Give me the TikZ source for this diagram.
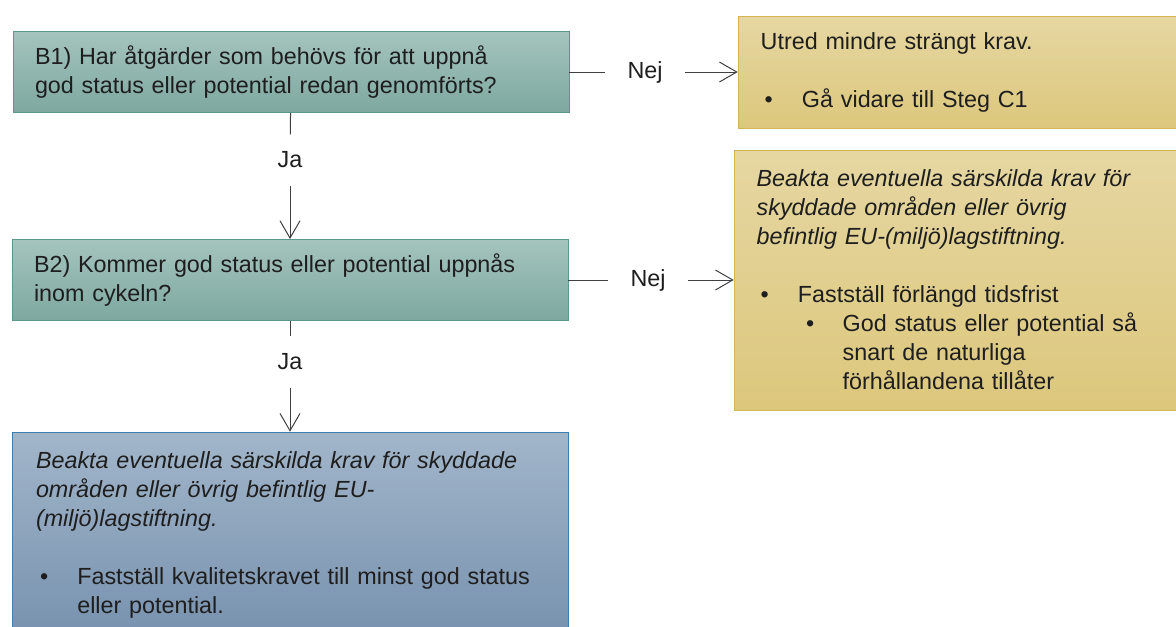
\documentclass[tikz,border=0pt]{standalone}
\usepackage{fontspec}
\setmainfont{Liberation Sans}[WordSpace=1.3]
\usetikzlibrary{arrows.meta}

\definecolor{tealtop}{HTML}{A5C4BE}
\definecolor{tealbot}{HTML}{7DA8A0}
\definecolor{tealline}{HTML}{5B978C}
\definecolor{bluetop}{HTML}{A2B6CA}
\definecolor{bluebot}{HTML}{7791AE}
\definecolor{blueline}{HTML}{3F7FAF}
\definecolor{gultop}{HTML}{E6D7A2}
\definecolor{gulbot}{HTML}{DCC77C}
\definecolor{gulline}{HTML}{D2B653}
\definecolor{textgray}{HTML}{1E1E1E}
\definecolor{linegray}{HTML}{404040}

\newcommand{\bul}{\hspace*{3pt}\makebox[28pt][l]{\textbullet}}
\newcommand{\subbul}{\hspace*{37pt}\makebox[27.5pt][l]{\textbullet}}

\tikzset{
  txt/.style={font=\fontsize{17.5}{21.75}\selectfont, text=textgray},
  fraga/.style={txt, draw=tealline, top color=tealtop, bottom color=tealbot, minimum height=61pt, text width=384pt, inner xsep=16.5pt, align=left},
  atgard/.style={txt, draw=blueline, top color=bluetop, bottom color=bluebot, minimum height=154.5pt, text width=381pt, inner xsep=18pt, align=left},
  utfall/.style={txt, draw=gulline, top color=gultop, bottom color=gulbot, inner xsep=17pt, align=left},
  svar/.style={txt, inner xsep=17pt, inner ysep=13pt},
  pil/.style={draw=linegray, line width=0.75pt},
  pilspets/.style={pil, -{Straight Barb[length=13pt,width=15pt]}}
}

\begin{document}
\begin{tikzpicture}[x=0.75pt,y=-0.75pt]
\useasboundingbox (0,0) rectangle (1176,626);
\clip (0,0) rectangle (1176,626);
%left column
 \node[fraga] (b1) at (291,72) {B1) Har åtgärder som behövs för att uppnå\\god status eller potential redan genomförts?}; %B1
 \node[fraga] (b2) at (290,280) {B2) Kommer god status eller potential uppnås\\inom cykeln?}; %B2
 \node[atgard] (krav) at (290,535) {{\itshape Beakta eventuella särskilda krav för skyddade\\områden eller övrig befintlig EU-\\(miljö)lagstiftning.}\\[21.75pt]
  \bul Fastställ kvalitetskravet till minst god status\\\hspace*{31pt}eller potential.}; %quality requirement
%right column
 \node[utfall, minimum height=84pt, text width=302pt] (mindre) at (962,72) {Utred mindre strängt krav.\\[21.75pt]\bul Gå vidare till Steg C1}; %less strict
 \node[utfall, minimum height=195pt, text width=305pt] (frist) at (960,280) {{\itshape Beakta eventuella särskilda krav för\\skyddade områden eller övrig\\befintlig EU-(miljö)lagstiftning.}\\[21.75pt]
  \bul Fastställ förlängd tidsfrist\\\subbul God status eller potential så\\\hspace*{64.5pt}snart de naturliga\\\hspace*{64.5pt}förhållandena tillåter}; %extended deadline
%answers
 \node[svar] (ja1) at (290,160) {Ja};
 \node[svar] (ja2) at (290,362) {Ja};
 \node[svar] (nej1) at (645,72) {Nej};
 \node[svar] (nej2) at (648,280) {Nej};
%connectors
 \draw[pil] (b1) -- (ja1);
 \draw[pilspets] (ja1) -- (b2);
 \draw[pil] (b2) -- (ja2);
 \draw[pilspets] (ja2) -- (krav);
 \draw[pil] (b1) -- (nej1);
 \draw[pilspets] (nej1) -- (mindre);
 \draw[pil] (b2) -- (nej2);
 \draw[pilspets] (nej2) -- (frist);
\end{tikzpicture}
\end{document}
